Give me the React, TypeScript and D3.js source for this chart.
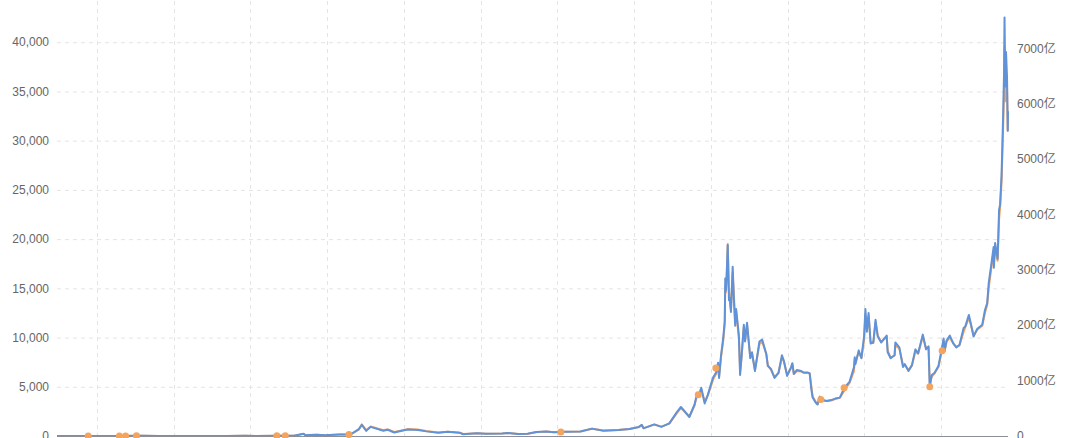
import React from 'react';
import * as d3 from 'd3';

// ---- data ----
const dates = [
  '2010-07-18','2010-09-01','2010-11-06','2011-01-01','2011-02-10','2011-04-01','2011-06-08','2011-07-01','2011-09-01','2011-11-18',
  '2012-01-08','2012-03-01','2012-06-01','2012-08-16','2012-10-01','2013-01-01','2013-03-01','2013-04-09','2013-04-16','2013-06-01',
  '2013-07-05','2013-09-01','2013-10-15','2013-11-18','2013-11-30','2013-12-18','2014-01-05','2014-02-25','2014-03-15','2014-04-10',
  '2014-06-03','2014-07-15','2014-08-18','2014-10-05','2014-11-12','2014-12-31','2015-01-14','2015-03-10','2015-04-15','2015-06-20',
  '2015-07-12','2015-08-24','2015-10-01','2015-11-04','2015-12-15','2016-01-15','2016-03-01','2016-05-01','2016-06-17','2016-08-02',
  '2016-10-01','2016-11-15','2016-12-23','2017-01-04','2017-01-11','2017-02-23','2017-03-24','2017-04-25','2017-05-25','2017-06-11',
  '2017-07-15','2017-08-05','2017-08-16','2017-08-22','2017-09-01','2017-09-15','2017-09-28','2017-10-12','2017-10-20','2017-10-31',
  '2017-11-08','2017-11-12','2017-11-20','2017-11-29','2017-12-05','2017-12-07','2017-12-10','2017-12-13','2017-12-17','2017-12-22',
  '2017-12-25','2017-12-30','2018-01-06','2018-01-10','2018-01-16','2018-01-20','2018-01-31','2018-02-05','2018-02-11','2018-02-20',
  '2018-02-25','2018-03-05','2018-03-18','2018-03-25','2018-04-06','2018-04-24','2018-05-05','2018-05-22','2018-05-28','2018-06-10',
  '2018-06-24','2018-07-10','2018-07-24','2018-08-01','2018-08-14','2018-08-30','2018-09-04','2018-09-10','2018-09-22','2018-10-10',
  '2018-10-20','2018-11-06','2018-11-13','2018-11-20','2018-11-25','2018-12-07','2018-12-15','2018-12-24','2018-12-28','2019-01-10',
  '2019-01-20','2019-02-08','2019-02-24','2019-03-15','2019-04-02','2019-04-23','2019-05-11','2019-05-14','2019-05-17','2019-05-30',
  '2019-06-10','2019-06-21','2019-06-26','2019-07-02','2019-07-09','2019-07-17','2019-07-28','2019-08-06','2019-08-15','2019-08-29',
  '2019-09-20','2019-09-24','2019-10-06','2019-10-22','2019-10-25','2019-11-10','2019-11-25','2019-12-02','2019-12-17','2019-12-31',
  '2020-01-14','2020-01-25','2020-02-13','2020-02-26','2020-03-07','2020-03-12','2020-03-20','2020-03-31','2020-04-16','2020-04-29',
  '2020-05-07','2020-05-11','2020-05-19','2020-06-01','2020-06-15','2020-06-27','2020-07-10','2020-07-27','2020-08-02','2020-08-17',
  '2020-08-25','2020-09-05','2020-09-20','2020-10-10','2020-10-21','2020-10-30','2020-11-05','2020-11-17','2020-11-25','2020-11-26',
  '2020-12-01','2020-12-11','2020-12-17','2020-12-21','2020-12-27','2021-01-02','2021-01-06','2021-01-08','2021-01-11','2021-01-14',
  '2021-01-18','2021-01-21','2021-01-22',
];

const closePrice = [
  0.09,0.06,0.4,0.3,1.0,0.78,29,15,8,2.2,
  7,5,5.3,13.5,12.4,13.4,34,230,80,129,
  68,146,150,700,1130,520,930,530,630,360,
  670,620,470,320,420,320,180,290,220,245,
  310,210,237,400,460,380,430,450,750,540,
  615,710,920,1130,780,1180,930,1280,2400,2950,
  1930,3200,4400,4100,4900,3300,4200,5400,6000,6450,
  7450,5900,8200,10000,11700,16000,14800,16500,19400,13800,
  14000,12600,17200,14400,11200,12900,10200,6200,8100,11300,
  9600,11500,7900,8500,6600,9600,9800,8300,7100,6800,
  5900,6400,8200,7600,6100,7000,7400,6300,6700,6600,
  6450,6450,6350,4700,3900,3400,3200,4000,3600,3600,
  3550,3650,3800,3900,4900,5500,7000,8000,7300,8700,
  7900,10200,12900,10600,12500,9400,9500,11800,10100,9500,
  10200,8500,7900,8200,9500,9000,7000,7300,6600,7200,
  8800,8400,10300,8800,9100,4900,6200,6400,7100,8800,
  9900,8600,9700,10200,9400,9000,9250,11000,11100,12300,
  11400,10100,10900,11300,12800,13500,15500,17700,19200,17100,
  19600,18000,23000,23500,26500,32200,36800,42500,35500,39000,
  36500,31000,33000,
];

const openPrice = [
  0.08,0.06,0.3,0.3,1.0,0.8,27,16,8,2.3,
  7,5,5.2,13,12.4,13.3,33,215,90,128,
  70,140,148,640,1180,600,960,580,680,420,
  700,650,500,350,440,330,200,290,225,245,
  300,215,237,390,450,385,425,450,730,560,
  610,705,900,1100,800,1160,950,1260,2300,2850,
  1980,3100,4250,4000,4700,3500,4150,5200,5800,6300,
  7200,6000,8000,9700,11400,15200,14600,16300,19500,14800,
  13900,12800,16600,14800,11600,12600,10000,6600,8000,11100,
  9700,11300,8000,8400,6700,9300,9600,8300,7200,6700,
  6000,6400,8000,7600,6200,6900,7300,6300,6600,6550,
  6400,6400,6350,5000,4000,3500,3250,3900,3650,3650,
  3550,3600,3750,3880,4600,5400,6600,7800,7500,8500,
  7950,9800,12300,10800,12200,9600,9450,11500,10200,9550,
  10100,8700,7950,8200,9200,8900,7200,7250,6700,7150,
  8600,8350,10100,8900,9000,5400,6000,6350,7000,8500,
  9700,8700,9600,10000,9400,9050,9200,10600,11000,12000,
  11300,10200,10800,11200,12500,13300,15000,17300,18800,17400,
  19200,17800,22000,23200,25800,31000,35000,39500,34000,37000,
  35500,31000,32500,
];

const dotDates = ['2010-11-21','2011-03-27','2011-04-21','2011-06-04','2012-12-22','2013-01-25','2013-10-09','2016-02-12','2017-08-20','2017-10-30','2018-12-28','2019-04-01','2020-03-12','2020-05-01'];
const dotValues = [0.25,0.8,1,15,13.5,20,150,400,4200,6900,3700,4900,5000,8650];

const leftTicks = [0,5000,10000,15000,20000,25000,30000,35000,40000,45000];
const rightTicks = [0,1000,2000,3000,4000,5000,6000,7000,8000];
const rightLabels = ['0','1000亿','2000亿','3000亿','4000亿','5000亿','6000亿','7000亿','8000亿'];

const gridFirstDate = '2010-12-26';
const gridStepDays = 310;

export default function App() {
  const W = 1080, H = 438;
  const parse = d3.utcParse('%Y-%m-%d');
  const left = 57, right = 1008, bottom = 436, top = -7;
  const x = d3.scaleUtc().domain([parse(dates[0])!, parse(dates[dates.length - 1])!]).range([left, right]);
  const yL = d3.scaleLinear().domain([0, 45000]).range([bottom, top]);
  const yR = d3.scaleLinear().domain([0, 8000]).range([bottom, top]);

  const ds = dates.map((d) => parse(d)!);
  const idx = d3.range(dates.length);
  const line = (vals: number[]) =>
    d3.line<number>().x((i) => x(ds[i])).y((i) => yL(vals[i]))(idx) || '';

  const end = ds[ds.length - 1];
  const gridDates: Date[] = [];
  for (let d = parse(gridFirstDate)!; d <= end; d = d3.utcDay.offset(d, gridStepDays)) gridDates.push(d);

  const font = '"Liberation Sans", Arial, "Noto Sans CJK SC", sans-serif';
  const textColor = '#666';
  const gridColor = '#e4e4e4';

  return (
    <svg width={W} height={H} style={{ position: 'absolute', left: 0, top: 0, background: '#fff' }}>
      {leftTicks.map((t) => t > 0 && (
        <line key={'h' + t} x1={left} x2={right} y1={yL(t) + 0.5} y2={yL(t) + 0.5}
          stroke={gridColor} strokeDasharray="4,4" />
      ))}
      {gridDates.map((d, i) => (
        <line key={'v' + i} x1={Math.round(x(d)) + 0.5} x2={Math.round(x(d)) + 0.5} y1={top} y2={bottom}
          stroke={gridColor} strokeDasharray="4,4" />
      ))}
      <path d={line(openPrice)} fill="none" stroke="#f5a45e" strokeWidth={2} strokeLinejoin="round" />
      <path d={line(closePrice)} fill="none" stroke="#5f92d8" strokeWidth={2} strokeLinejoin="round" />
      <line x1={left} x2={right} y1={bottom + 0.5} y2={bottom + 0.5} stroke="#8a8f99" strokeWidth={1} />
      {dotDates.map((d, i) => (
        <circle key={'p' + i} cx={x(parse(d)!)} cy={yL(dotValues[i])} r={3.5} fill="#f5a45e" />
      ))}
      {leftTicks.map((t) => (
        <text key={'l' + t} x={49} y={yL(t)} dy="0.35em" textAnchor="end" fontSize={12}
          fontFamily={font} fill={textColor}>{d3.format(',')(t)}</text>
      ))}
      {rightTicks.map((t, i) => (
        <text key={'r' + t} x={1017} y={yR(t)} dy="0.35em" textAnchor="start" fontSize={12}
          fontFamily={font} fill={textColor}>{rightLabels[i]}</text>
      ))}
    </svg>
  );
}
